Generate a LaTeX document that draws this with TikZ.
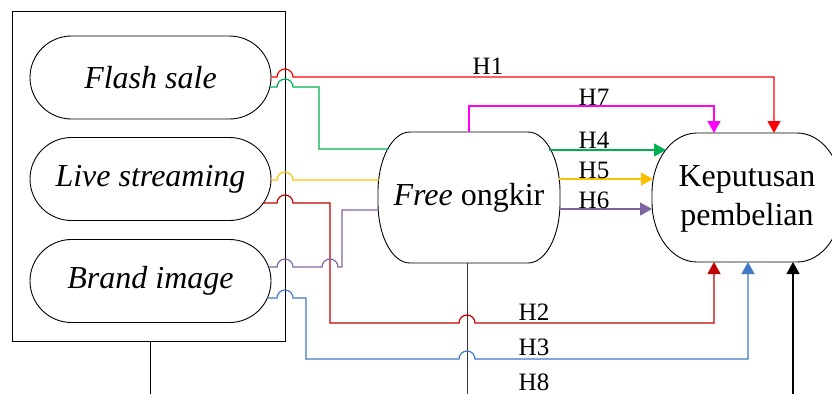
\documentclass[tikz,border=0pt]{standalone}
\usepackage{fontspec}
\setmainfont{Liberation Serif}
\usetikzlibrary{arrows.meta}
\definecolor{cHa}{RGB}{255,0,0}
\definecolor{cHb}{RGB}{192,0,0}
\definecolor{cG}{RGB}{0,176,80}
\definecolor{cY}{RGB}{255,192,0}
\definecolor{cP}{RGB}{128,100,162}
\definecolor{cB}{RGB}{65,120,200}
\definecolor{cM}{RGB}{255,0,255}
\newcommand\ellbox[6]{\draw[outl, fill=white] (#1+#5,#2) -- (#3-#5,#2) arc[start angle=90,end angle=0,x radius=#5pt,y radius=#6pt] -- (#3,#4-#6) arc[start angle=0,end angle=-90,x radius=#5pt,y radius=#6pt] -- (#1+#5,#4) arc[start angle=270,end angle=180,x radius=#5pt,y radius=#6pt] -- (#1,#2+#6) arc[start angle=180,end angle=90,x radius=#5pt,y radius=#6pt] -- cycle;}
\begin{document}
\begin{tikzpicture}[x=1pt,y=-1pt,
  outl/.style={line width=0.9pt},
  conn/.style={line width=1.2pt},
  arr/.style={conn,-{Triangle[width=13pt,length=12pt]}},
  big/.style={font=\fontsize{32}{39}\selectfont, align=center},
  lab/.style={font=\fontsize{25}{29}\selectfont, anchor=base},
  pill/.style={draw, outl, fill=white, rounded corners=41.5pt, minimum width=241pt, minimum height=83pt, inner sep=0pt, font=\fontsize{32}{39}\selectfont\itshape}]
\useasboundingbox (0,0) rectangle (832,394);
\clip (0,0) rectangle (832,394);
% group box
\node[draw, outl, minimum width=273pt, minimum height=330pt, inner sep=0pt] (grp) at (148.5,176) {};
\draw[outl] ([xshift=2pt]grp.south) -- ++(0,53);
% shapes
\node[pill] (fs) at (150.5,77.5) {Flash sale};
\node[pill] (ls) at (150.5,179) {Live streaming};
\node[pill] (bi) at (150.5,281) {Brand image};
\ellbox{378}{132}{560}{263}{32}{60}
\node[big] (fo) at (469,197.5) {\textit{Free} ongkir};
\ellbox{652}{133}{842}{262}{45}{60}
\node[big] (kp) at (747,199) {Keputusan\\pembelian};
% vertical from Free ongkir
\draw[line width=1pt, black!80] (467,263) -- (467,394);
% connectors
\draw[arr,cHa] (271,77) -- (277,77) arc[start angle=180,end angle=0,radius=8pt] -- (774,77) -- (774,133);
\draw[conn,cG] (270,87) -- (277,87) arc[start angle=180,end angle=0,radius=8pt] -- (319,87) -- (319,149) -- (388,149);
\draw[conn,cY] (271,180) -- (277,180) arc[start angle=180,end angle=0,radius=8pt] -- (379,180);
\draw[arr,cHb] (263.4,203) -- (277,203) arc[start angle=180,end angle=0,radius=8pt] -- (330,203) -- (330,323) -- (459,323) arc[start angle=180,end angle=0,radius=8pt] -- (714,323) -- (714,262);
\draw[conn,cP] (268.6,267) -- (277,267) arc[start angle=180,end angle=0,radius=8pt] -- (322,267) arc[start angle=180,end angle=0,radius=8pt] -- (342,267) -- (342,210) -- (378,210);
\draw[arr,cB] (267.4,298) -- (277,298) arc[start angle=180,end angle=0,radius=8pt] -- (306,298) -- (306,359) -- (459,359) arc[start angle=180,end angle=0,radius=8pt] -- (748,359) -- (748,262);
\draw[arr] (793,394) -- (793,262);
\draw[arr,cM] (469,132) -- (469,106) -- (714,106) -- (714,133);
\draw[arr,cG] (549,150) -- (666,150);
\draw[arr,cY] (559,179) -- (653,179);
\draw[arr,cP] (560,209) -- (652,209);
% labels
\node[lab] (l1) at (488,74) {H1};
\node[lab] (l7) at (594,105) {H7};
\node[lab] (l4) at (594,148) {H4};
\node[lab] (l5) at (594,178) {H5};
\node[lab] (l6) at (594,208) {H6};
\node[lab] (l2) at (534,320) {H2};
\node[lab] (l3) at (534,355) {H3};
\node[lab] (l8) at (534,390) {H8};
\end{tikzpicture}
\end{document}
